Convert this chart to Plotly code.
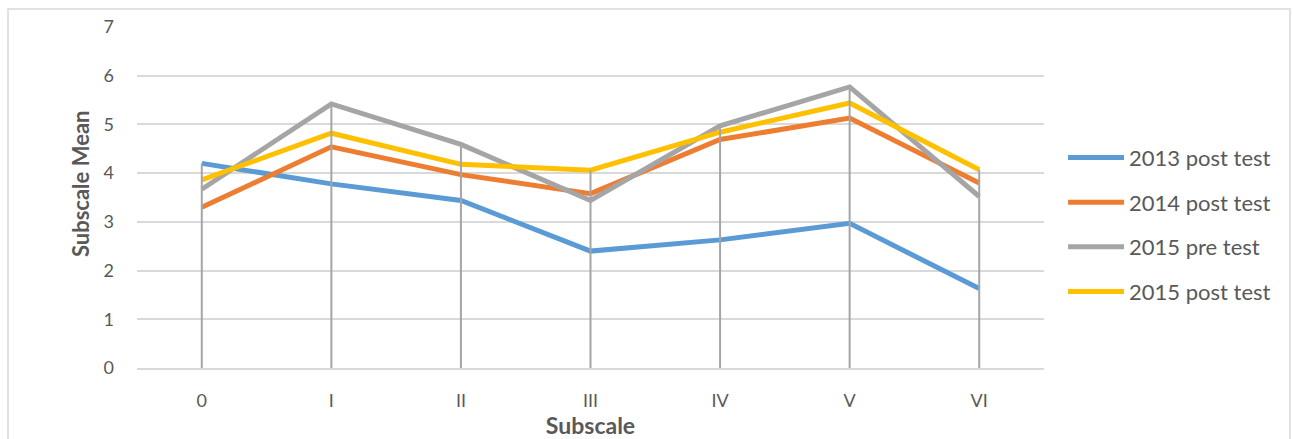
import plotly.graph_objects as go

categories = ["0", "I", "II", "III", "IV", "V", "VI"]
series_names = ["2013 post test", "2014 post test", "2015 pre test", "2015 post test"]
v2013_post = [4.20, 3.78, 3.44, 2.40, 2.63, 2.97, 1.63]
v2014_post = [3.30, 4.54, 3.97, 3.58, 4.69, 5.13, 3.80]
v2015_pre = [3.67, 5.42, 4.59, 3.44, 4.97, 5.77, 3.52]
v2015_post = [3.86, 4.82, 4.18, 4.06, 4.84, 5.44, 4.07]
colors = ["#5B9BD5", "#ED7D31", "#A5A5A5", "#FFC000"]

all_series = [v2013_post, v2014_post, v2015_pre, v2015_post]

FONT = "Lato, 'Open Sans', sans-serif"
fig = go.Figure()

for i, (name, vals, col) in enumerate(zip(series_names, all_series, colors)):
    fig.add_trace(go.Scatter(
        x=categories, y=vals, mode="lines", name=name,
        line=dict(color=col, width=5), legendgroup=str(i),
    ))

# Drop lines from the highest point of each category down to the axis
dx, dy = [], []
for j, c in enumerate(categories):
    top = max(s[j] for s in all_series)
    dx += [c, c, None]
    dy += [0, top, None]
fig.add_trace(go.Scatter(x=dx, y=dy, mode="lines", showlegend=False,
                         line=dict(color="#A5A5A5", width=2), hoverinfo="skip"))

W, H = 1293, 439
L, T = 137, 27
PW, PH = 907, 343
fig.update_layout(
    width=W, height=H,
    margin=dict(l=L, r=W - L - PW, t=T, b=H - T - PH),
    paper_bgcolor="white", plot_bgcolor="white",
    font=dict(family=FONT, color="#595959", size=18),
    legend=dict(x=1.021, xanchor="left", y=0.42, yanchor="middle",
                font=dict(size=22, color="#595959"), traceorder="grouped",
                tracegroupgap=13, bgcolor="rgba(0,0,0,0)", itemwidth=56),
    xaxis=dict(type="category", range=[-0.5, 6.5], showgrid=False,
               showline=True, linecolor="#D9D9D9", linewidth=1.5,
               ticks="", ticklabelstandoff=16, tickfont=dict(size=18, color="#595959"),
               title=dict(text="<b>Subscale</b>", font=dict(size=23, color="#595959"), standoff=0)),
    yaxis=dict(range=[0, 7], dtick=1, showgrid=True, gridcolor="#D9D9D9", gridwidth=1.5,
               zeroline=False, ticks="", ticklabelstandoff=22,
               tickfont=dict(size=18, color="#595959")),
    annotations=[dict(text="<b>Subscale Mean</b>", textangle=-90, showarrow=False,
                      xref="paper", yref="paper", x=(80 - L) / PW, y=(PH + T - 185) / PH,
                      xanchor="center", yanchor="middle",
                      font=dict(size=22, color="#595959"))],
    shapes=[dict(type="rect", xref="paper", yref="paper",
                 x0=(8 - L) / PW, x1=(1290 - L) / PW,
                 y0=(PH + T - 448) / PH, y1=(PH + T - 9) / PH,
                 line=dict(color="#D9D9D9", width=1.5), layer="below")],
)

fig.write_html("out.html", config={"displayModeBar": False},
               post_script="document.body.style.margin='0';document.body.style.overflow='hidden';")
